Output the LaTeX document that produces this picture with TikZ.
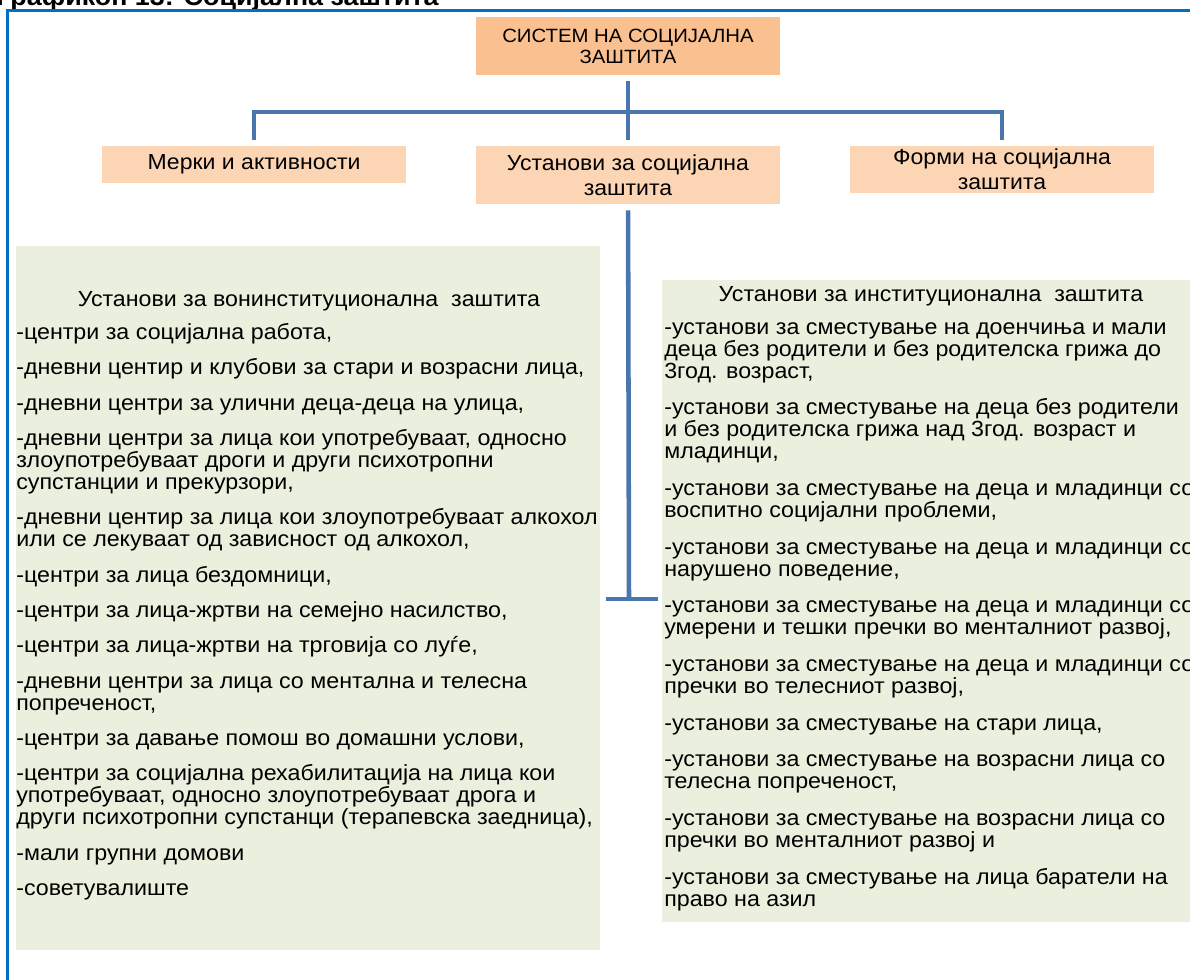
\documentclass[tikz,border=0pt]{standalone}
\usepackage{fontspec}
\setmainfont[FakeStretch=1.06]{Liberation Sans}
\usetikzlibrary{positioning}
\definecolor{frameblue}{HTML}{0070C0}
\definecolor{linkblue}{HTML}{4A76AE}
\definecolor{peachdark}{HTML}{FAC090}
\definecolor{peach}{HTML}{FCD5B5}
\definecolor{sage}{HTML}{EBF0DE}

\begin{document}
\begin{tikzpicture}[x=0.75pt,y=-0.75pt,line join=miter]
  \tikzstyle{topbox}=[rectangle,fill=peachdark,text=black,align=center,inner sep=0pt,
                      minimum width=228pt,minimum height=43.5pt,font=\fontsize{14.4}{15.75}\selectfont]
  \tikzstyle{subbox}=[rectangle,fill=peach,text=black,align=center,inner sep=0pt,
                      minimum width=228pt,font=\fontsize{16.3}{18.75}\selectfont]
  \tikzstyle{listbox}=[rectangle,fill=sage,inner sep=0pt]
  \tikzstyle{listhead}=[inner sep=0pt,font=\fontsize{16.4}{16.5}\selectfont]
  \tikzstyle{listbody}=[inner sep=0pt,align=left,anchor=north west,font=\fontsize{16.45}{16.5}\selectfont]
  \tikzstyle{link}=[draw=linkblue,line width=3.4pt,shorten <=4.5pt,shorten >=4.5pt]

  \useasboundingbox (0,0) rectangle (1190,980);
  \clip (0,0) rectangle (1190,980);

  \node[anchor=base west,inner sep=0pt,font=\bfseries\fontsize{19}{20}\selectfont] (caption) at (-4,6)
       {Графикон 13: Социјална заштита};
  \draw[frameblue,line width=2.25pt] (7,11) rectangle (1220,1010);

  \node[topbox]                       (sys)      at (628,46)    {СИСТЕМ НА СОЦИЈАЛНА\\ЗАШТИТА};
  \node[subbox,minimum height=27.75pt] (merki)   at (254,164.5) {Мерки и активности};
  \node[subbox,minimum height=43.5pt] (ustanovi) at (628,175)   {Установи за социјална\\заштита};
  \node[subbox,minimum height=35.25pt] (formi)   at (1002,169.5) {Форми на социјална\\заштита};

  \coordinate (hub)   at (628,112);
  \coordinate (foot)  at (629,599);
  \coordinate (footL) at (606,599);
  \coordinate (footR) at (658,599);

  \path[link] (sys) -- (ustanovi);
  \path[link] (merki.north) |- (hub) -| (formi.north);
  \path[link,shorten >=0pt] (ustanovi) -- (foot);
  \path[link,shorten <=0pt,shorten >=0pt] (footL) -- (footR);

  \node[listbox,minimum width=438pt,minimum height=528pt]   (vonbox) at (308,598) {};
  \node[listbox,minimum width=403.5pt,minimum height=481.5pt] (insbox) at (931,601) {};

  \node[listhead] (vonhead) at (309,301) {Установи за вонинституционална\ \ заштита};
  \node[listhead] (inshead) at (931,296) {Установи за институционална\ \ заштита};

  \node[listbody] (vonlist) at (16,323) {%
    -центри за социјална работа,\\[10pt]
    -дневни центир и клубови за стари и возрасни лица,\\[10pt]
    -дневни центри за улични деца-деца на улица,\\[10pt]
    -дневни центри за лица кои употребуваат, односно\\
    злоупотребуваат дроги и други психотропни\\
    супстанции и прекурзори,\\[10pt]
    -дневни центир за лица кои злоупотребуваат алкохол\\
    или се лекуваат од зависност од алкохол,\\[10pt]
    -центри за лица бездомници,\\[10pt]
    -центри за лица-жртви на семејно насилство,\\[10pt]
    -центри за лица-жртви на трговија со луѓе,\\[10pt]
    -дневни центри за лица со ментална и телесна\\
    попреченост,\\[10pt]
    -центри за давање помош во домашни услови,\\[10pt]
    -центри за социјална рехабилитација на лица кои\\
    употребуваат, односно злоупотребуваат дрога и\\
    други психотропни супстанци (терапевска заедница),\\[10pt]
    -мали групни домови\\[10pt]
    -советувалиште};

  \node[listbody] (inslist) at (664,322) {%
    -установи за сместување на доенчиња и мали\\
    деца без родители и без родителска грижа до\\
    3год. возраст,\\[11pt]
    -установи за сместување на деца без родители\\
    и без родителска грижа над 3год. возраст и\\
    младинци,\\[11pt]
    -установи за сместување на деца и младинци со\\
    воспитно социјални проблеми,\\[11pt]
    -установи за сместување на деца и младинци со\\
    нарушено поведение,\\[11pt]
    -установи за сместување на деца и младинци со\\
    умерени и тешки пречки во менталниот развој,\\[11pt]
    -установи за сместување на деца и младинци со\\
    пречки во телесниот развој,\\[11pt]
    -установи за сместување на стари лица,\\[11pt]
    -установи за сместување на возрасни лица со\\
    телесна попреченост,\\[11pt]
    -установи за сместување на возрасни лица со\\
    пречки во менталниот развој и\\[11pt]
    -установи за сместување на лица баратели на\\
    право на азил};
\end{tikzpicture}
\end{document}
